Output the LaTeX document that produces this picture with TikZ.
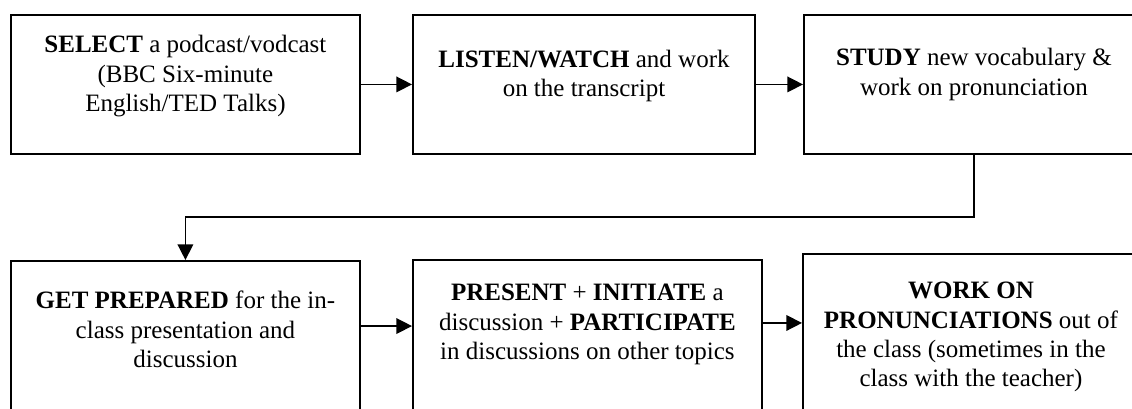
\documentclass[tikz,border=0pt]{standalone}
\usepackage{fontspec}
\setmainfont{Liberation Serif}
\usetikzlibrary{arrows.meta}
\tikzstyle{arrow} = [line width=0.7pt,-{Triangle[length=7.5pt,width=7.5pt]}]
\tikzstyle{stepbox} = [rectangle, draw=black, line width=0.9pt, inner sep=0pt, anchor=north west, font=\fontsize{12}{14}\selectfont]
\newcommand{\steptext}[4]{\parbox[t][#2][t]{#1}{\centering\vspace*{#3}\strut#4}}

\begin{document}
\begin{tikzpicture}[x=0.48pt, y=-0.48pt]
    \useasboundingbox (0,0) rectangle (1132,408);
    \clip (0,0) rectangle (1132,408);

    % top row
    \node (select) [stepbox] at (10,14) {\steptext{167.5pt}{66.7pt}{8.4pt}{\textbf{SELECT} a podcast/vodcast\\ (BBC Six-minute\\ English/TED Talks)}};
    \node (listen) [stepbox] at (412,14) {\steptext{164.2pt}{66.7pt}{15.2pt}{\textbf{LISTEN/WATCH} and work\\ on the transcript}};
    \node (study) [stepbox] at (803,14) {\steptext{163.2pt}{66.7pt}{14.7pt}{\textbf{STUDY} new vocabulary \&\\ work on pronunciation}};

    % bottom row
    \node (prepare) [stepbox] at (10,260) {\steptext{167.5pt}{81.6pt}{13.2pt}{\textbf{GET PREPARED} for the in-\\ class presentation and\\ discussion}};
    \node (present) [stepbox] at (412,259) {\steptext{167.5pt}{81.6pt}{9.9pt}{\textbf{PRESENT} + \textbf{INITIATE} a\\ discussion + \textbf{PARTICIPATE}\\ in discussions on other topics}};
    \node (pron) [stepbox] at (802,253) {\steptext{161.3pt}{81.6pt}{11.8pt}{\textbf{WORK ON}\\ \textbf{PRONUNCIATIONS} out of\\ the class (sometimes in the\\ class with the teacher)}};

    \coordinate (p1) at ([yshift=-31.7pt]prepare.north east);
    \coordinate (p2) at ([yshift=-30.7pt]present.north east);

    \draw [arrow] (select) -- (listen);
    \draw [arrow] (listen) -- (study);
    \draw [arrow] (study.south) -- ++(0,62) -| (prepare.north);
    \draw [arrow] (p1) -- (p1 -| present.west);
    \draw [arrow] (p2) -- (p2 -| pron.west);

\end{tikzpicture}
\end{document}
